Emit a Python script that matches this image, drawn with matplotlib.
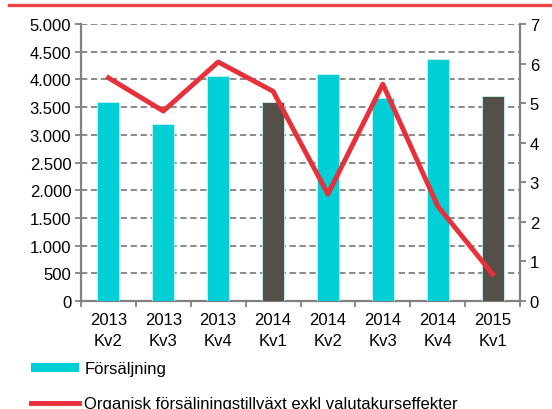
import matplotlib.pyplot as plt
from matplotlib.lines import Line2D
from matplotlib.patches import Patch

plt.rcParams['font.family'] = ['Liberation Sans', 'DejaVu Sans']

# Data
quarters = ["2013\nKv2", "2013\nKv3", "2013\nKv4", "2014\nKv1",
            "2014\nKv2", "2014\nKv3", "2014\nKv4", "2015\nKv1"]
sales = [3600, 3200, 4060, 3600, 4100, 3660, 4370, 3700]
growth = [5.64, 4.80, 6.04, 5.30, 2.70, 5.48, 2.40, 0.68]
bar_colors = ["#00d0d6", "#00d0d6", "#00d0d6", "#545048",
              "#00d0d6", "#00d0d6", "#00d0d6", "#545048"]
left_ticks = list(range(0, 5001, 500))
left_labels = ["0", "500", "1.000", "1.500", "2.000", "2.500",
               "3.000", "3.500", "4.000", "4.500", "5.000"]

gray = "#808080"
fs = 12
fig = plt.figure(figsize=(5.52, 4.10), dpi=100)
ax = fig.add_axes([81 / 552, 1 - 302 / 410, 439 / 552, 277 / 410])
x = list(range(len(quarters)))

ax.bar(x, sales, width=0.4, color=bar_colors, edgecolor="#c8f4f4",
       linewidth=0.6, zorder=3)
ax.set_xlim(-0.5, len(quarters) - 0.5)
ax.set_ylim(0, 5000)
ax.set_yticks(left_ticks)
ax.set_yticklabels(left_labels)
ax.set_xticks(x)
ax.set_xticklabels(quarters, fontsize=fs, linespacing=1.5)
ax.set_xticks([i + 0.5 for i in range(-1, len(quarters))], minor=True)
ax.tick_params(axis="x", which="major", length=0, pad=8)
ax.tick_params(axis="x", which="minor", length=4, color=gray, width=1.3)
ax.tick_params(axis="y", length=4, color=gray, width=1.3, labelsize=fs, pad=3)
ax.grid(axis="y", linestyle=(0, (3.5, 2)), color=gray, linewidth=1.3, zorder=0)
for side in ["top", "right"]:
    ax.spines[side].set_visible(False)
for side in ["left", "bottom"]:
    ax.spines[side].set_color(gray)
    ax.spines[side].set_linewidth(1.6)

ax2 = ax.twinx()
ax2.plot(x, growth, color="#e8303a", linewidth=3.5, zorder=4)
ax2.set_ylim(0, 7)
ax2.set_yticks(range(0, 8))
ax2.tick_params(axis="y", length=4, color=gray, width=1.3, labelsize=fs, pad=3)
for side in ["top", "left", "bottom"]:
    ax2.spines[side].set_visible(False)
ax2.spines["right"].set_color(gray)
ax2.spines["right"].set_linewidth(1.6)

# Red rule at the top of the figure
fig.add_artist(Line2D([9 / 552, 1], [1 - 6 / 410] * 2, color="#f04444",
                      linewidth=2.4, transform=fig.transFigure))

handles = [Patch(facecolor="#00d0d6", edgecolor="none"),
           Line2D([], [], color="#e8303a", linewidth=3.5)]
labels = ["Försäljning", "Organisk försäljningstillväxt exkl valutakurseffekter"]
fig.legend(handles, labels, loc="upper left", bbox_to_anchor=(31 / 552, 1 - 362 / 410),
           frameon=False, fontsize=fs, handlelength=2.9, handleheight=0.45,
           handletextpad=0.3, labelspacing=1.2, borderaxespad=0, borderpad=0)

fig.savefig("out.png", dpi=100)
